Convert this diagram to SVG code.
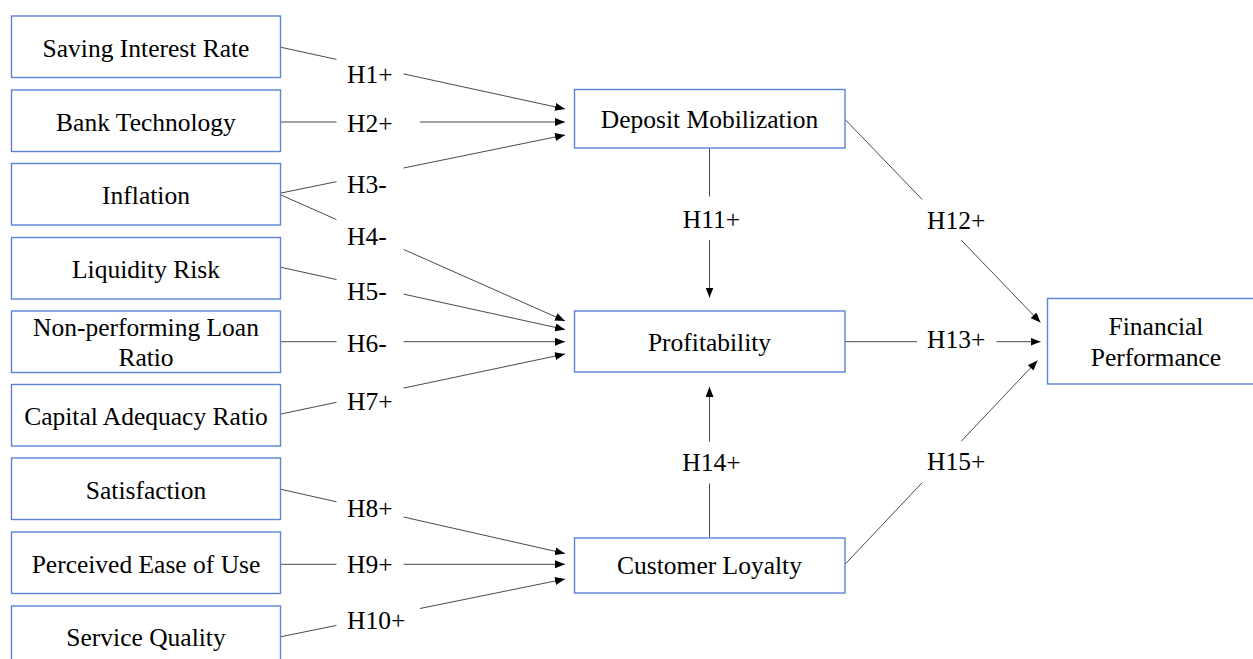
<svg xmlns="http://www.w3.org/2000/svg" width="1253" height="659" viewBox="0 0 1253 659">
  <style>
    .box { fill: #ffffff; stroke: #5b83d6; stroke-width: 1.4; }
    .lbl { font-family: "Liberation Serif", "Times New Roman", serif; font-size: 25.5px; fill: #000000; }
    .mid { text-anchor: middle; }
    .edge { fill: none; stroke: #4a4a4a; stroke-width: 1; }
  </style>
  <defs>
    <marker id="arrow" markerUnits="userSpaceOnUse" markerWidth="10" markerHeight="8" refX="10" refY="4" orient="auto">
      <path d="M0,0 L10,4 L0,8 z" fill="#000000"/>
    </marker>
  </defs>
  <rect width="1253" height="659" fill="#ffffff"/>

  <!-- connectors: each path breaks where its hypothesis label sits -->
  <g id="connectors">
    <path class="edge" marker-end="url(#arrow)" d="M281,47.3 L336.5,59.4 M403.5,73.9 L565,109"/>
    <path class="edge" marker-end="url(#arrow)" d="M281,122 L336.5,122 M420,122 L565,122"/>
    <path class="edge" marker-end="url(#arrow)" d="M281,193 L336.5,181.7 M403.5,168 L565,135"/>
    <path class="edge" marker-end="url(#arrow)" d="M281,195 L336.5,219.6 M403.5,249.4 L565,321"/>
    <path class="edge" marker-end="url(#arrow)" d="M281,267.3 L336.5,279.5 M403.5,294.1 L565,329.5"/>
    <path class="edge" marker-end="url(#arrow)" d="M281,341.7 L336.5,341.7 M403.5,341.7 L565,341.7"/>
    <path class="edge" marker-end="url(#arrow)" d="M281,414 L336.5,402.3 M403.5,388.1 L565,354"/>
    <path class="edge" marker-end="url(#arrow)" d="M281,489.3 L336.5,501.8 M403.5,517 L565,553.5"/>
    <path class="edge" marker-end="url(#arrow)" d="M281,564.3 L336.5,564.3 M403.5,564.3 L565,564.3"/>
    <path class="edge" marker-end="url(#arrow)" d="M281,636.7 L336.5,625.4 M420,608.5 L565,579"/>
    <path class="edge" marker-end="url(#arrow)" d="M709.5,148.5 L709.5,196.5 M709.5,240 L709.5,297.5"/>
    <path class="edge" marker-end="url(#arrow)" d="M709.5,537.5 L709.5,483.5 M709.5,441.5 L709.5,387"/>
    <path class="edge" marker-end="url(#arrow)" d="M845,119.3 L922.3,199.6 M961.2,240.1 L1040.5,322.5"/>
    <path class="edge" marker-end="url(#arrow)" d="M845,341.7 L917,341.7 M996.5,341.7 L1040.5,341.7"/>
    <path class="edge" marker-end="url(#arrow)" d="M845,564.3 L922.3,482.5 M961.2,441.3 L1037.5,360.5"/>
  </g>

  <!-- hypothesis labels -->
  <g id="hypotheses" class="lbl">
    <text x="347" y="83">H1+</text>
    <text x="347" y="131.5">H2+</text>
    <text x="347" y="193">H3-</text>
    <text x="347" y="245">H4-</text>
    <text x="347" y="300">H5-</text>
    <text x="347" y="351.5">H6-</text>
    <text x="347" y="410">H7+</text>
    <text x="347" y="517.3">H8+</text>
    <text x="347" y="572.7">H9+</text>
    <text x="347" y="629.3">H10+</text>
    <text class="mid" x="711.5" y="228.3">H11+</text>
    <text x="927" y="229.3">H12+</text>
    <text x="927" y="348.3">H13+</text>
    <text class="mid" x="711.5" y="470.7">H14+</text>
    <text x="927" y="470">H15+</text>
  </g>

  <!-- antecedent constructs -->
  <g id="saving-interest-rate">
    <rect class="box" x="11.5" y="16" width="269" height="61.5"/>
    <text class="lbl mid" x="146" y="56.5">Saving Interest Rate</text>
  </g>
  <g id="bank-technology">
    <rect class="box" x="11.5" y="90" width="269" height="61.5"/>
    <text class="lbl mid" x="146" y="130.5">Bank Technology</text>
  </g>
  <g id="inflation">
    <rect class="box" x="11.5" y="163.5" width="269" height="61.5"/>
    <text class="lbl mid" x="146" y="203.5">Inflation</text>
  </g>
  <g id="liquidity-risk">
    <rect class="box" x="11.5" y="237.5" width="269" height="61.5"/>
    <text class="lbl mid" x="146" y="277.5">Liquidity Risk</text>
  </g>
  <g id="npl-ratio">
    <rect class="box" x="11.5" y="311" width="269" height="61.5"/>
    <text class="lbl mid" x="146" y="336">Non-performing Loan</text>
    <text class="lbl mid" x="146" y="366">Ratio</text>
  </g>
  <g id="capital-adequacy-ratio">
    <rect class="box" x="11.5" y="384.5" width="269" height="61.5"/>
    <text class="lbl mid" x="146" y="424.5">Capital Adequacy Ratio</text>
  </g>
  <g id="satisfaction">
    <rect class="box" x="11.5" y="458" width="269" height="61.5"/>
    <text class="lbl mid" x="146" y="498.5">Satisfaction</text>
  </g>
  <g id="perceived-ease-of-use">
    <rect class="box" x="11.5" y="532" width="269" height="61.5"/>
    <text class="lbl mid" x="146" y="572.5">Perceived Ease of Use</text>
  </g>
  <g id="service-quality">
    <rect class="box" x="11.5" y="606" width="269" height="61.5"/>
    <text class="lbl mid" x="146" y="646">Service Quality</text>
  </g>

  <!-- mediators -->
  <g id="deposit-mobilization">
    <rect class="box" x="574.5" y="89.5" width="270.5" height="58.5"/>
    <text class="lbl mid" x="709.5" y="128.3">Deposit Mobilization</text>
  </g>
  <g id="profitability">
    <rect class="box" x="574.5" y="311" width="270.5" height="61"/>
    <text class="lbl mid" x="709.5" y="350.7">Profitability</text>
  </g>
  <g id="customer-loyalty">
    <rect class="box" x="574.5" y="538" width="270.5" height="55"/>
    <text class="lbl mid" x="709.5" y="574.3">Customer Loyalty</text>
  </g>

  <!-- outcome -->
  <g id="financial-performance">
    <rect class="box" x="1047.5" y="298.5" width="217" height="85.5"/>
    <text class="lbl mid" x="1156" y="335">Financial</text>
    <text class="lbl mid" x="1156" y="366">Performance</text>
  </g>
</svg>
